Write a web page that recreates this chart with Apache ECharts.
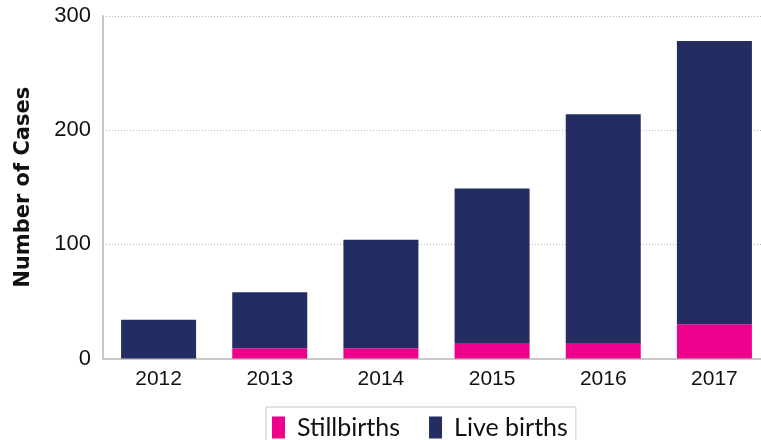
<!DOCTYPE html>
<html>
<head>
<meta charset="utf-8">
<script src="https://cdn.jsdelivr.net/npm/echarts@6/dist/echarts.min.js"></script>
<style>
	html, body { margin: 0; padding: 0; background: #fff; }
	#chart { width: 761px; height: 440px; }
</style>
</head>
<body>
<div id="chart"></div>
<script>
	// data
	var years = ['2012', '2013', '2014', '2015', '2016', '2017'];
	var stillbirths = [0, 9, 9, 13, 13, 30];
	var liveBirths = [34, 49, 95, 136, 201, 248];
	var yTicks = [0, 100, 200, 300];

	var pink = '#EC008C';
	var navy = '#242D61';

	var myChart = echarts.init(document.getElementById('chart'));

	var option = {
		animation: false,
		grid: {
			left: 103,
			right: -9,
			top: 16,
			bottom: 81.5,
			outerBoundsMode: 'none',
			containLabel: false
		},
		legend: {
			left: 266,
			top: 407,
			orient: 'horizontal',
			borderColor: '#c8c8c8',
			borderWidth: 1,
			padding: [8, 8, 8, 6],
			itemWidth: 13,
			itemHeight: 22,
			itemGap: 29,
			icon: 'rect',
			textStyle: {
				fontFamily: 'Lato',
				fontSize: 25,
				color: '#111',
				padding: [0, 0, 0, 7]
			},
			data: ['Stillbirths', 'Live births']
		},
		xAxis: {
			type: 'category',
			data: years,
			axisTick: { show: false },
			axisLine: { lineStyle: { color: '#c8c8c8', width: 2 } },
			axisLabel: {
				fontFamily: 'Liberation Sans',
				fontSize: 21,
				color: '#111',
				margin: 10
			}
		},
		yAxis: {
			type: 'value',
			min: yTicks[0],
			max: yTicks[yTicks.length - 1],
			interval: 100,
			name: 'Number of Cases',
			nameLocation: 'middle',
			nameGap: 69,
			nameTextStyle: {
				fontFamily: 'DejaVu Sans',
				fontWeight: 'bold',
				fontSize: 21,
				color: '#111'
			},
			axisLine: { show: true, lineStyle: { color: '#c8c8c8', width: 2 } },
			axisTick: { show: false },
			axisLabel: {
				fontFamily: 'Liberation Sans',
				fontSize: 22,
				color: '#111',
				margin: 12
			},
			splitLine: {
				lineStyle: { color: '#b5b5b5', type: [1, 2], width: 1 }
			}
		},
		series: [{
			name: 'Stillbirths',
			type: 'bar',
			stack: 'total',
			barWidth: 75,
			itemStyle: { color: pink },
			data: stillbirths
		}, {
			name: 'Live births',
			type: 'bar',
			stack: 'total',
			barWidth: 75,
			itemStyle: { color: navy },
			data: liveBirths
		}]
	};

	option && myChart.setOption(option);
</script>
</body>
</html>
